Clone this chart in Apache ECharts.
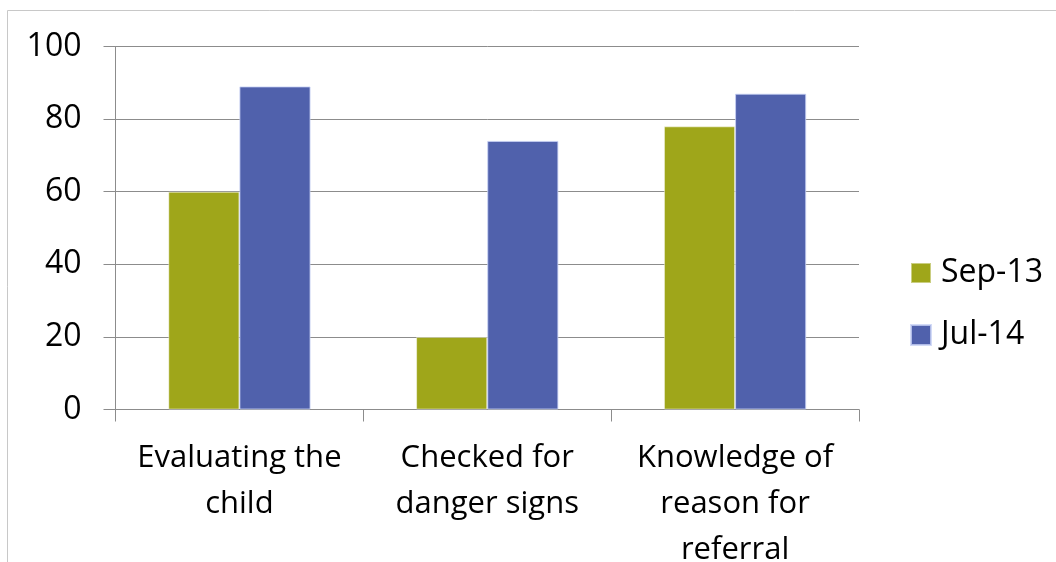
<!DOCTYPE html>
<html>
<head>
<meta charset="utf-8">
<style>
  html, body { margin: 0; padding: 0; background: #ffffff; }
  #chart { width: 1056px; height: 562px; }
</style>
<script src="https://cdn.jsdelivr.net/npm/echarts@6/dist/echarts.min.js"></script>
</head>
<body>
<div id="chart"></div>
<script>
// Categories and survey scores (%)
const categories = ['Evaluating the\nchild', 'Checked for\ndanger signs', 'Knowledge of\nreason for\nreferral'];
const seriesNames = ['Sep-13', 'Jul-14'];
const sep13 = [60, 20, 78];
const jul14 = [89, 74, 87];
const yTicks = { min: 0, max: 100, interval: 20 };

const FONT = '"Open Sans", "Noto Sans", sans-serif';
const GRID = '#8c8c8c';

const chart = echarts.init(document.getElementById('chart'), null, { renderer: 'canvas' });

chart.setOption({
  animation: false,
  backgroundColor: '#ffffff',
  graphic: [{
    type: 'rect',
    shape: { x: 7.5, y: 10.5, width: 1200, height: 700 },
    style: { fill: 'none', stroke: '#c8c8c8', lineWidth: 1 },
    silent: true
  }],
  grid: {
    left: 115.5, right: 197, top: 46.5, bottom: 152.5,
    containLabel: false,
    outerBoundsMode: 'none'
  },
  legend: {
    orient: 'vertical',
    left: 905,
    top: 252,
    itemWidth: 20,
    itemHeight: 20,
    itemGap: 30,
    icon: 'rect',
    textStyle: { fontFamily: FONT, fontSize: 32, color: '#000', padding: [0, 0, 0, 5] },
    data: seriesNames
  },
  xAxis: {
    type: 'category',
    data: categories,
    axisLine: { show: true, lineStyle: { color: GRID, width: 1 } },
    axisTick: { show: true, length: 12, lineStyle: { color: GRID } },
    axisLabel: {
      interval: 0,
      margin: 26,
      fontFamily: FONT,
      fontSize: 31,
      lineHeight: 46,
      color: '#000'
    }
  },
  yAxis: {
    type: 'value',
    min: yTicks.min,
    max: yTicks.max,
    interval: yTicks.interval,
    axisLine: { show: true, lineStyle: { color: GRID, width: 1 } },
    axisTick: { show: true, inside: false, length: 12, lineStyle: { color: GRID } },
    splitLine: { show: true, lineStyle: { color: GRID, width: 1 } },
    axisLabel: { margin: 34, fontFamily: FONT, fontSize: 32, color: '#000' }
  },
  series: [
    {
      name: seriesNames[0],
      type: 'bar',
      data: sep13,
      barGap: '0%',
      barCategoryGap: '42.6%',
      itemStyle: { color: '#9fa61a', borderColor: 'rgba(255,255,255,0.45)', borderWidth: 1 }
    },
    {
      name: seriesNames[1],
      type: 'bar',
      data: jul14,
      barGap: '0%',
      barCategoryGap: '42.6%',
      itemStyle: { color: '#5061ac', borderColor: 'rgba(200,210,245,0.8)', borderWidth: 1 }
    }
  ]
});
</script>
</body>
</html>
